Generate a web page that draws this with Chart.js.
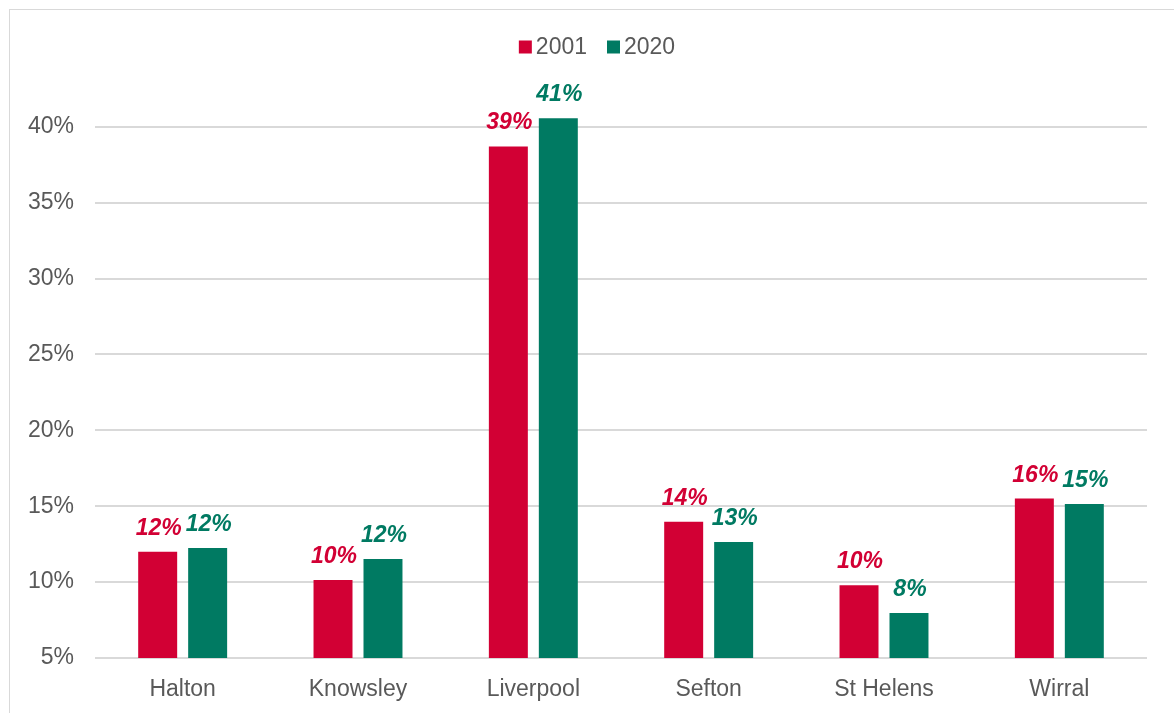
<!DOCTYPE html>
<html>
<head>
<meta charset="utf-8">
<script src="https://cdn.jsdelivr.net/npm/chart.js@4.4.1/dist/chart.umd.min.js"></script>
<style>
  html, body { margin: 0; padding: 0; background: #fff; }
  #wrap { position: relative; width: 1174px; height: 713px; overflow: hidden; }
  #frame { position: absolute; left: 9px; top: 9px; width: 1200px; height: 750px; border: 1px solid #d9d9d9; box-sizing: border-box; }
  #chart-box { position: absolute; left: 0; top: 0; width: 1174px; height: 713px; }
</style>
</head>
<body>
<div id="wrap">
  <div id="frame"></div>
  <div id="chart-box"><canvas id="barChart"></canvas></div>
</div>
<script>
// ── data ──
const districts = ["Halton", "Knowsley", "Liverpool", "Sefton", "St Helens", "Wirral"];
const share2001 = [12.0, 10.14, 38.7, 13.97, 9.8, 15.5];
const share2020 = [12.25, 11.53, 40.55, 12.65, 7.97, 15.15];
const yTicks = [5, 10, 15, 20, 25, 30, 35, 40];

const RED = "#d20034";
const GREEN = "#007a62";
const GREY_TEXT = "#595959";
const FONT = "'Liberation Sans', Arial, sans-serif";

// value labels above each bar (bold italic, series colour)
const valueLabels = {
  id: "valueLabels",
  afterDatasetsDraw(chart) {
    const ctx = chart.ctx;
    ctx.save();
    ctx.font = `italic bold 23px ${FONT}`;
    ctx.textAlign = "center";
    ctx.textBaseline = "alphabetic";
    chart.data.datasets.forEach((ds, i) => {
      const meta = chart.getDatasetMeta(i);
      ctx.fillStyle = ds.backgroundColor;
      meta.data.forEach((bar, j) => {
        ctx.fillText(Math.round(ds.data[j]) + "%", bar.x + 1, bar.y - 17);
      });
    });
    ctx.restore();
  },
};

// compact legend centred over the frame: small square + label, tight spacing
const topLegend = {
  id: "topLegend",
  afterDraw(chart) {
    const ctx = chart.ctx;
    const box = 13, gap = 4, itemGap = 20, midY = 47, centreX = 597;
    ctx.save();
    ctx.font = `23px ${FONT}`;
    ctx.textBaseline = "middle";
    const items = chart.data.datasets.map((ds) => ({
      text: ds.label,
      color: ds.backgroundColor,
      w: box + gap + ctx.measureText(ds.label).width,
    }));
    const total = items.reduce((s, it) => s + it.w, 0) + itemGap * (items.length - 1);
    let x = centreX - total / 2;
    items.forEach((it) => {
      ctx.fillStyle = it.color;
      ctx.fillRect(x, midY - box / 2, box, box);
      ctx.fillStyle = GREY_TEXT;
      ctx.fillText(it.text, x + box + gap, midY + 1);
      x += it.w + itemGap;
    });
    ctx.restore();
  },
};

new Chart(document.getElementById("barChart"), {
  type: "bar",
  data: {
    labels: districts,
    datasets: [
      { label: "2001", data: share2001, backgroundColor: RED },
      { label: "2020", data: share2020, backgroundColor: GREEN },
    ],
  },
  options: {
    responsive: true,
    maintainAspectRatio: false,
    animation: false,
    categoryPercentage: 0.57,
    barPercentage: 0.78,
    layout: { padding: { top: 66, right: 27, left: 0, bottom: 0 } },
    plugins: {
      tooltip: { enabled: false },
      legend: { display: false },
    },
    scales: {
      x: {
        grid: { display: false },
        border: { display: false },
        ticks: { color: GREY_TEXT, font: { family: FONT, size: 23 }, padding: 10 },
        afterFit(scale) { scale.height = 55; },
      },
      y: {
        min: 5,
        max: 44,
        afterBuildTicks(scale) {
          scale.ticks = yTicks.map((v) => ({ value: v }));
        },
        grid: { color: "#d9d9d9", lineWidth: 2, drawTicks: false },
        border: { display: false },
        ticks: {
          color: GREY_TEXT,
          font: { family: FONT, size: 23 },
          padding: 21,
          callback: (v) => v + "%",
        },
        afterFit(scale) { scale.width = 95; },
      },
    },
  },
  plugins: [valueLabels, topLegend],
});
</script>
</body>
</html>
